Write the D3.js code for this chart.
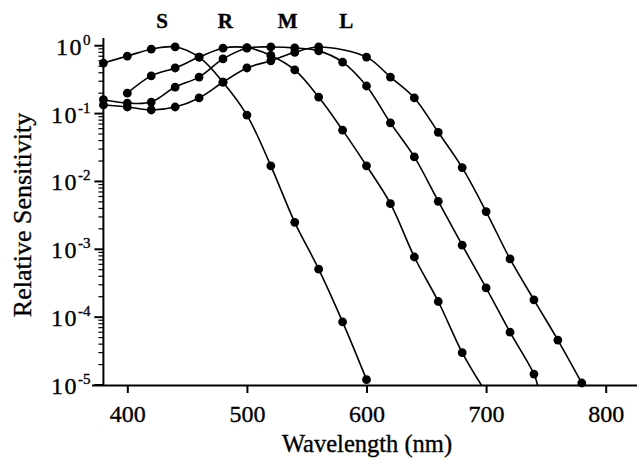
<!DOCTYPE html>
<html>
<head>
<meta charset="utf-8">
<script src="https://cdn.jsdelivr.net/npm/d3@7/dist/d3.min.js"></script>
<style>
  html, body { margin: 0; padding: 0; background: #fff; }
  svg { display: block; }
  text { font-family: "Liberation Serif", "Times New Roman", serif; fill: #000; stroke: #000; stroke-width: 0.35px; }
</style>
</head>
<body>
<svg id="chart" width="637" height="459"></svg>
<script>
// ---- data ----
const sWl  = [380, 400, 420, 440, 460, 480, 500, 520, 540, 560, 580, 600];
const sVal = [0.556, 0.705, 0.89, 0.96, 0.68, 0.29, 0.095, 0.017, 0.0025, 5.1e-4, 8.5e-5, 1.2e-5];

const rWl  = [400, 420, 440, 460, 480, 500, 520, 540, 560, 580, 600, 620, 640, 660, 680];
const rVal = [0.2, 0.36, 0.47, 0.68, 0.92, 0.94, 0.72, 0.44, 0.175, 0.057, 0.017, 0.0047, 7.7e-4, 1.7e-4, 3e-5];

const mWl  = [380, 400, 420, 440, 460, 480, 500, 520, 540, 560, 580, 600, 620, 640, 660, 680, 700, 720, 740];
const mVal = [0.16, 0.143, 0.148, 0.246, 0.345, 0.64, 0.92, 0.96, 0.93, 0.84, 0.575, 0.255, 0.073, 0.023, 0.0051, 0.00115, 2.7e-4, 6e-5, 1.45e-5];

const lWl  = [380, 400, 420, 440, 460, 480, 500, 520, 540, 560, 600, 620, 640, 660, 680, 700, 720, 740, 760, 780];
const lVal = [0.134, 0.125, 0.113, 0.125, 0.17, 0.29, 0.47, 0.6, 0.8, 0.96, 0.68, 0.345, 0.17, 0.053, 0.016, 0.0036, 7.2e-4, 1.8e-4, 4.6e-5, 1.07e-5];

// where the fitted lines run out at the bottom of the axis
const rTailWl = [696], rTailVal = [1e-5];
const mTailWl = [743], mTailVal = [1e-5];

const curveNames = ["S", "R", "M", "L"];
const curveNameWl = [429, 482, 534, 583];

const xTicks = [400, 500, 600, 700, 800];
const yExps  = [-5, -4, -3, -2, -1, 0];

// ---- layout ----
const svg = d3.select("#chart");
const x = d3.scaleLinear().domain([380, 826]).range([103.4, 636.8]);
const y = d3.scaleLog().domain([1e-5, 1.3]).range([385, 38]);

const series = [
  { wl: sWl, v: sVal, tw: [], tv: [] },
  { wl: rWl, v: rVal, tw: rTailWl, tv: rTailVal },
  { wl: mWl, v: mVal, tw: mTailWl, tv: mTailVal },
  { wl: lWl, v: lVal, tw: [], tv: [] }
];

// ---- axes ----
const xAxis = d3.axisBottom(x).tickValues(xTicks).tickSize(8).tickSizeOuter(0).tickFormat("");
const gx = svg.append("g").attr("transform", "translate(0,385)").call(xAxis);
gx.select(".domain").attr("d", "M92,0.5H637").attr("stroke", "#000").attr("stroke-width", 2);
gx.selectAll(".tick line").attr("stroke", "#000").attr("stroke-width", 2);

gx.selectAll(".tick").append("text")
  .attr("y", 37).attr("text-anchor", "middle")
  .style("font-size", "24px")
  .text(d => d);

// y axis: major and minor ticks
const minor = [];
yExps.slice(0, -1).forEach(e => { for (let k = 2; k <= 9; k++) minor.push(k * Math.pow(10, e)); });

const gy = svg.append("g").attr("transform", "translate(103.4,0)");
gy.append("line").attr("x1", 0).attr("x2", 0).attr("y1", y(1.3)).attr("y2", 385)
  .attr("stroke", "#000").attr("stroke-width", 2);
gy.selectAll(".minor").data(minor).enter().append("line")
  .attr("x1", -5).attr("x2", 0).attr("y1", d => y(d)).attr("y2", d => y(d))
  .attr("stroke", "#000").attr("stroke-width", 1.2);
gy.selectAll(".major").data(yExps).enter().append("line")
  .attr("x1", -9).attr("x2", 0).attr("y1", d => y(Math.pow(10, d))).attr("y2", d => y(Math.pow(10, d)))
  .attr("stroke", "#000").attr("stroke-width", 2);

const yl = gy.selectAll(".ylab").data(yExps).enter().append("text")
  .attr("x", -13).attr("y", d => y(Math.pow(10, d)) + 9)
  .attr("text-anchor", "end")
  .style("font-size", "24px");
yl.append("tspan").style("letter-spacing", "1.5px").text("10");
yl.append("tspan").attr("dy", -10).style("font-size", "15px").text(d => d === 0 ? "0" : "-" + Math.abs(d));

// axis titles
svg.append("text").attr("x", 367).attr("y", 452).attr("text-anchor", "middle")
  .style("font-size", "24.5px").text("Wavelength (nm)");
svg.append("text").attr("transform", "translate(31,215) rotate(-90)").attr("text-anchor", "middle")
  .style("font-size", "26px").text("Relative Sensitivity");

// curve names
svg.selectAll(".cname").data(curveNames).enter().append("text")
  .attr("x", (d, i) => x(curveNameWl[i])).attr("y", 28)
  .attr("text-anchor", "middle").style("font-size", "21px").style("font-weight", "bold")
  .text(d => d);

// ---- lines and points ----
const line = d3.line().x(d => x(d[0])).y(d => y(d[1])).curve(d3.curveCatmullRom.alpha(0.5));

series.forEach(s => {
  const pts = s.wl.map((w, i) => [w, s.v[i]]).concat(s.tw.map((w, i) => [w, s.tv[i]]));
  svg.append("path").datum(pts).attr("d", line)
    .attr("fill", "none").attr("stroke", "#000").attr("stroke-width", 1.6);
});
series.forEach(s => {
  svg.append("g").selectAll("circle").data(s.wl.map((w, i) => [w, s.v[i]])).enter()
    .append("circle").attr("cx", d => x(d[0])).attr("cy", d => y(d[1])).attr("r", 4.4).attr("fill", "#000");
});
</script>
</body>
</html>
